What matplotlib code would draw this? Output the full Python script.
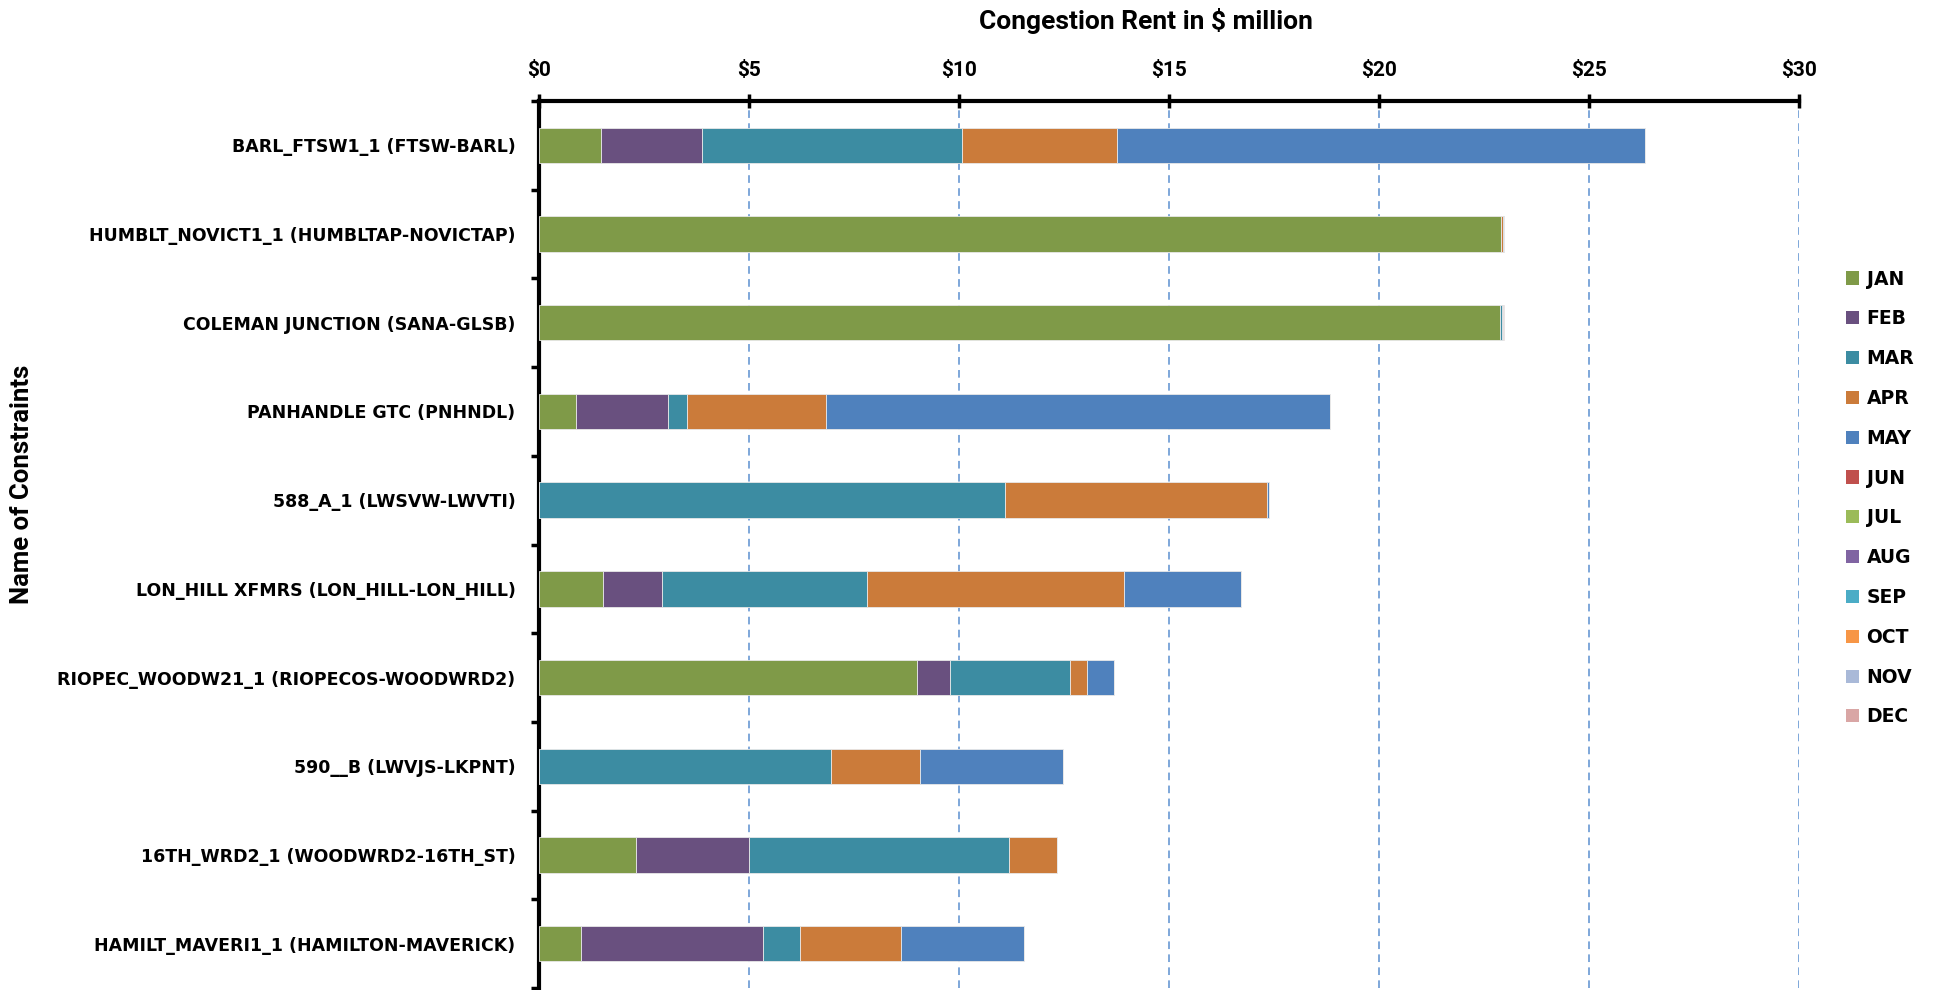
import matplotlib
matplotlib.use("Agg")
import matplotlib.pyplot as plt
from matplotlib.patches import Patch
from matplotlib.ticker import MultipleLocator, FixedLocator, FuncFormatter
import numpy as np

# constraint names, top to bottom
constraints = [
    "BARL_FTSW1_1 (FTSW-BARL)",
    "HUMBLT_NOVICT1_1 (HUMBLTAP-NOVICTAP)",
    "COLEMAN JUNCTION (SANA-GLSB)",
    "PANHANDLE GTC (PNHNDL)",
    "588_A_1 (LWSVW-LWVTI)",
    "LON_HILL XFMRS (LON_HILL-LON_HILL)",
    "RIOPEC_WOODW21_1 (RIOPECOS-WOODWRD2)",
    "590__B (LWVJS-LKPNT)",
    "16TH_WRD2_1 (WOODWRD2-16TH_ST)",
    "HAMILT_MAVERI1_1 (HAMILTON-MAVERICK)",
]

months = ["JAN", "FEB", "MAR", "APR", "MAY", "JUN",
          "JUL", "AUG", "SEP", "OCT", "NOV", "DEC"]

# congestion rent in $ million, one list per month (same order as constraints)
jan = [1.47, 22.90, 22.88, 0.89, 0.00, 1.53, 9.01, 0.00, 2.30, 1.01]
feb = [2.40, 0.00, 0.00, 2.17, 0.00, 1.40, 0.78, 0.00, 2.70, 4.31]
mar = [6.21, 0.00, 0.04, 0.47, 11.09, 4.87, 2.86, 6.95, 6.19, 0.90]
apr = [3.68, 0.05, 0.00, 3.31, 6.25, 6.13, 0.40, 2.11, 1.14, 2.39]
may = [12.56, 0.03, 0.02, 11.98, 0.03, 2.79, 0.65, 3.42, 0.00, 2.94]
jun = [0, 0, 0, 0, 0, 0, 0, 0, 0, 0]
jul = [0, 0, 0, 0, 0, 0, 0, 0, 0, 0]
aug = [0, 0, 0, 0, 0, 0, 0, 0, 0, 0]
sep = [0, 0, 0, 0, 0, 0, 0, 0, 0, 0]
oct_ = [0, 0, 0, 0, 0, 0, 0, 0, 0, 0]
nov = [0, 0, 0, 0, 0, 0, 0, 0, 0, 0]
dec = [0.00, 0.00, 0.03, 0, 0, 0, 0, 0, 0, 0]

month_colors = ["#7F9A48", "#69507F", "#3C8CA2", "#CB7B3A", "#4F81BD", "#C0504D",
                "#9BBB59", "#8064A2", "#4BACC6", "#F79646", "#A9B9D8", "#D9A6A5"]

title_font = "Roboto"
label_font = "DejaVu Sans"

fig = plt.figure(figsize=(19.37, 9.9), dpi=100)
ax = fig.add_axes([0.2783, 0.002, 0.6505, 0.896])

series = [jan, feb, mar, apr, may, jun, jul, aug, sep, oct_, nov, dec]
y = np.arange(len(constraints))
left = np.zeros(len(constraints))
for name, vals, col in zip(months, series, month_colors):
    vals = np.array(vals, dtype=float)
    ax.barh(y, vals, left=left, height=0.4, color=col, edgecolor="#E8E8E8",
            linewidth=0.6, zorder=3)
    left += vals

ax.set_xlim(0, 30)
ax.set_ylim(len(constraints) - 0.5, -0.5)

# x axis on top
ax.xaxis.set_ticks_position("top")
ax.xaxis.set_label_position("top")
ax.xaxis.set_major_locator(MultipleLocator(5))
ax.xaxis.set_major_formatter(FuncFormatter(lambda v, p: "$%d" % v))
ax.tick_params(axis="x", direction="inout", length=10, width=2.5, pad=10,
               labelsize=15)
for t in ax.get_xticklabels():
    t.set_fontfamily(title_font)
    t.set_fontweight("bold")

# category labels at centers, ticks at the boundaries
ax.set_yticks(y)
ax.set_yticklabels(constraints, fontsize=12.5, fontweight="bold", family=label_font)
ax.tick_params(axis="y", which="major", length=0, pad=17)
ax.yaxis.set_minor_locator(FixedLocator(np.arange(-0.5, len(constraints), 1.0)))
ax.tick_params(axis="y", which="minor", direction="out", length=6, width=2.5)

for s in ["right", "bottom"]:
    ax.spines[s].set_visible(False)
ax.spines["top"].set_linewidth(3)
ax.spines["left"].set_linewidth(3)

ax.grid(axis="x", color="#5B8FD0", linestyle=(0, (5, 3.5)), linewidth=1.1, zorder=0)
ax.set_axisbelow(True)

fig.text(0.5915, 0.979, "Congestion Rent in $ million", ha="center", va="center",
         fontsize=19, fontweight="bold", family=title_font)
fig.text(0.0115, 0.511, "Name of Constraints", ha="center", va="center",
         rotation=90, fontsize=18.5, fontweight="bold", family=title_font)

handles = [Patch(facecolor=c, edgecolor="none") for c in month_colors]
fig.legend(handles, months, loc="center left", bbox_to_anchor=(0.953, 0.497),
           frameon=False, borderpad=0, borderaxespad=0, handlelength=0.7,
           handleheight=0.7, handletextpad=0.4, labelspacing=1.11,
           prop={"family": label_font, "weight": "bold", "size": 13.5})

fig.savefig("out.png", dpi=100)
